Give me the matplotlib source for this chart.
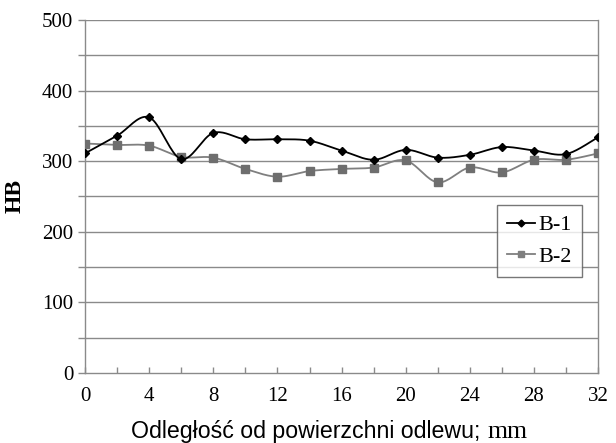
import numpy as np
import matplotlib
matplotlib.use("Agg")
import matplotlib.pyplot as plt
from matplotlib.lines import Line2D

x_mm = [0, 2, 4, 6, 8, 10, 12, 14, 16, 18, 20, 22, 24, 26, 28, 30, 32]
b1 = [311, 336, 362, 303, 340, 331, 331, 329, 315, 302, 316, 305, 309, 320, 315, 310, 334]
b2 = [325, 323, 322, 306, 305, 289, 278, 286, 289, 291, 301, 270, 291, 284, 302, 302, 311]
series_names = ["B-1", "B-2"]
x_ticks = [0, 4, 8, 12, 16, 20, 24, 28, 32]
y_ticks = [0, 100, 200, 300, 400, 500]
xlabel_main = "Odległość od powierzchni odlewu;"
xlabel_unit = "mm"


def smooth(xs, ys, n=20):
    # Catmull-Rom style curve through the data points (Excel "smoothed line" look)
    xs = np.asarray(xs, float); ys = np.asarray(ys, float)
    px = np.concatenate([[xs[0]], xs, [xs[-1]]])
    py = np.concatenate([[ys[0]], ys, [ys[-1]]])
    ox, oy = [], []
    t = np.linspace(0, 1, n, endpoint=False)
    for i in range(1, len(px) - 2):
        p0x, p1x, p2x, p3x = px[i-1], px[i], px[i+1], px[i+2]
        p0y, p1y, p2y, p3y = py[i-1], py[i], py[i+1], py[i+2]
        k = 1 / 6.0
        c1x, c1y = p1x + (p2x - p0x) * k, p1y + (p2y - p0y) * k
        c2x, c2y = p2x - (p3x - p1x) * k, p2y - (p3y - p1y) * k
        bx = (1-t)**3*p1x + 3*(1-t)**2*t*c1x + 3*(1-t)*t**2*c2x + t**3*p2x
        by = (1-t)**3*p1y + 3*(1-t)**2*t*c1y + 3*(1-t)*t**2*c2y + t**3*p2y
        ox.extend(bx); oy.extend(by)
    ox.append(xs[-1]); oy.append(ys[-1])
    return ox, oy


fig = plt.figure(figsize=(6.16, 4.43), dpi=100)
ax = fig.add_axes([0.138, 0.158, 0.833, 0.797])

grid_c = "#8a8a8a"
for v in range(50, 501, 50):
    ax.axhline(v, color=grid_c, lw=1.0, zorder=1)

c1, c2 = "#000000", "#7f7f7f"
sx, sy = smooth(x_mm, b2)
ax.plot(sx, sy, color=c2, lw=1.3, zorder=2)
ax.plot(x_mm, b2, ls="none", marker="s", ms=6, color="#6e6e6e", zorder=3)
sx, sy = smooth(x_mm, b1)
ax.plot(sx, sy, color=c1, lw=1.3, zorder=4)
ax.plot(x_mm, b1, ls="none", marker="D", ms=4.5, color=c1, zorder=5)

ax.set_xlim(0, 32)
ax.set_ylim(0, 500)
ax.set_xticks(x_ticks)
ax.set_xticks(x_mm, minor=True)
ax.set_yticks(y_ticks)
ax.set_yticks(range(0, 501, 50), minor=True)

serif = ["Liberation Serif", "DejaVu Serif"]
sans = ["Liberation Sans", "DejaVu Sans"]
ax.set_xticklabels([str(v) for v in x_ticks], family=serif, fontsize=15)
ax.set_yticklabels([str(v) for v in y_ticks], family=serif, fontsize=15)
ax.tick_params(axis="both", which="both", direction="out", color=grid_c, length=4, width=1)
ax.tick_params(axis="y", which="both", direction="out", length=5)
ax.tick_params(axis="x", which="both", direction="in", length=4, pad=10)

for side in ["left", "bottom", "right"]:
    ax.spines[side].set_color(grid_c)
    ax.spines[side].set_linewidth(1.0)
ax.spines["top"].set_visible(False)

ax.set_ylabel("HB", family=serif, fontsize=17, fontweight="bold", labelpad=12)

# x-axis title: sans-serif words followed by a serif unit, as in the original
base_y = 5 / 443
fig.text(480 / 616, base_y, xlabel_main, family=sans, fontsize=16.7, ha="right", va="baseline")
fig.text(487 / 616, base_y, xlabel_unit, family=serif, fontsize=18.5, ha="left", va="baseline")

handles = [Line2D([], [], color=c1, lw=1.3, marker="D", ms=3.5),
           Line2D([], [], color=c2, lw=1.3, marker="s", ms=4)]
leg = ax.legend(handles, series_names, loc="upper left", bbox_to_anchor=(0.803, 0.476),
                prop={"family": serif, "size": 16}, frameon=True, fancybox=False,
                handlelength=1.25, handletextpad=0.15, borderpad=0.45, labelspacing=0.5,
                borderaxespad=0)
leg.get_frame().set_edgecolor("#555555")
leg.get_frame().set_linewidth(1.0)
leg.set_zorder(10)

fig.savefig("out.png", dpi=100, facecolor="white")
